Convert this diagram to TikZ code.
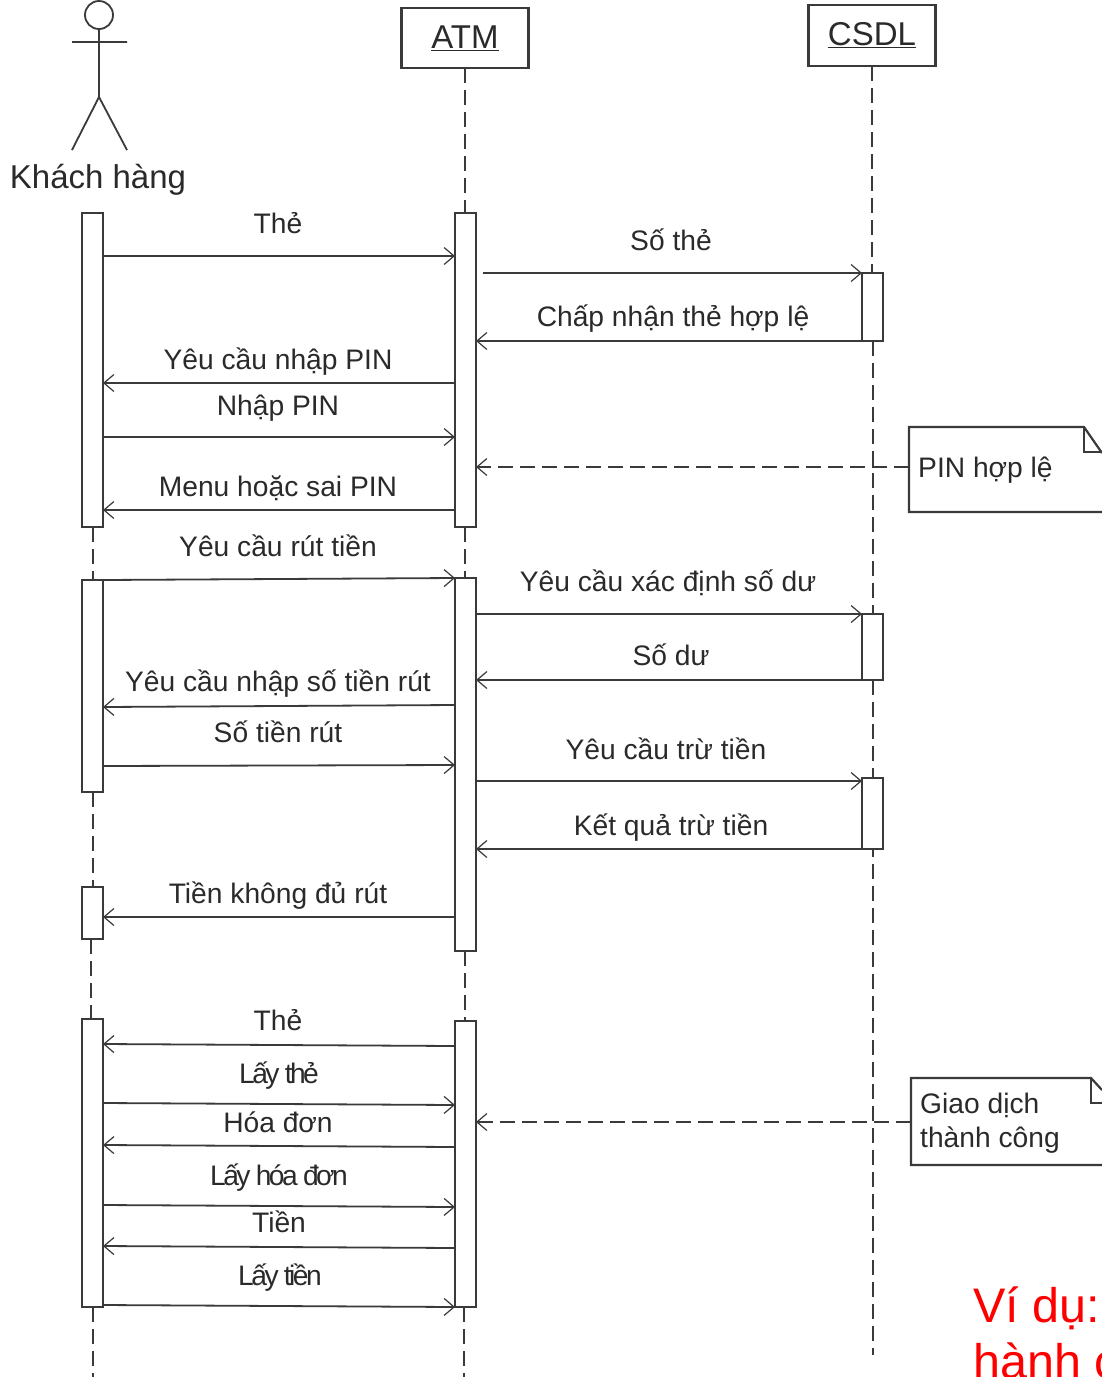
\documentclass[tikz,border=0pt]{standalone}
\usepackage{fontspec}
\setmainfont{Liberation Sans}
\usetikzlibrary{arrows.meta}
\definecolor{ink}{HTML}{3A3A3A}
\definecolor{txt}{HTML}{2A2A2A}
\tikzset{
  barbox/.style={draw=ink,line width=2pt,fill=white,minimum width=21pt,inner sep=0pt,outer sep=0pt},
  headbox/.style={draw=ink,line width=2.2pt,fill=white,minimum width=127pt,minimum height=60pt,inner sep=0pt,outer sep=0pt,font=\fontsize{33}{36}\selectfont,text=txt},
  lbl/.style={anchor=base,inner sep=0pt,text=txt,font=\fontsize{28.2}{30}\selectfont},
  tight/.style={anchor=base,inner sep=0pt,text=txt,font=\fontsize{28.2}{30}\selectfont\addfontfeature{LetterSpace=-9}},
  notetext/.style={anchor=base west,inner sep=0pt,text=txt,font=\fontsize{28.2}{30}\selectfont},
  redtext/.style={anchor=base west,inner sep=0pt,text=red,font=\fontsize{48.5}{52}\selectfont},
  msg/.style={draw=ink,line width=1.8pt,-{Straight Barb[length=10pt,width=17pt,line width=1.2pt]}},
  dsh/.style={draw=ink,line width=1.8pt,dash pattern=on 15pt off 7pt,-{Straight Barb[length=10pt,width=17pt,line width=1.2pt]}},
  life/.style={draw=ink,line width=1.7pt,dash pattern=on 15pt off 7pt},
  stick/.style={draw=ink,line width=1.8pt},
  notebox/.style={draw=ink,line width=2.2pt,line join=miter},
}
\begin{document}
\begin{tikzpicture}[x=1pt,y=-1pt]
\path[use as bounding box] (0,0) rectangle (1102,1377);
\clip (0,0) rectangle (1102,1377);
\fill[white] (0,0) rectangle (1102,1377);

% actor
\draw[stick] (99,15) circle (14);
\draw[stick] (99,29) -- (99,97) (72,42) -- (127,42) (72,150) -- (99,97) -- (127,150);
\node[anchor=base,inner sep=0pt,text=txt,font=\fontsize{33}{36}\selectfont] (khach) at (98,188) {Khách hàng};

% heads
\node[headbox] (atm) at (465,38) {\underline{ATM}};
\node[headbox,minimum height=61pt] (csdl) at (872,35.5) {\underline{CSDL}};

% lifeline free ends
\coordinate (kend) at (93,1377);
\coordinate (aend) at (464,1377);
\coordinate (cend) at (873,1355);

% activation bars
\node[barbox,minimum height=314pt] (k1) at (92.5,370) {};
\node[barbox,minimum height=212pt] (k2) at (92.5,686) {};
\node[barbox,minimum height=52pt] (k3) at (92.5,913) {};
\node[barbox,minimum height=288pt] (k4) at (92.5,1163) {};
\node[barbox,minimum height=314pt] (a1) at (465.5,370) {};
\node[barbox,minimum height=373pt] (a2) at (465.5,764.5) {};
\node[barbox,minimum height=286pt] (a3) at (465.5,1164) {};
\node[barbox,minimum height=68pt] (c1) at (872.5,307) {};
\node[barbox,minimum height=66pt] (c2) at (872.5,647) {};
\node[barbox,minimum height=71pt] (c3) at (872.5,813.5) {};

% lifelines
\draw[life] (atm.south) -- (atm.south |- a1.north);
\draw[life] (atm.south |- a1.south) -- (atm.south |- a2.north);
\draw[life] (atm.south |- a2.south) -- (atm.south |- a3.north);
\draw[life] (aend |- a3.south) -- (aend);
\draw[life] (csdl.south) -- (csdl.south |- c1.north);
\draw[life] (cend |- c1.south) -- (cend |- c2.north);
\draw[life] (cend |- c2.south) -- (cend |- c3.north);
\draw[life,dash phase=7pt] (cend |- c3.south) -- (cend);
\draw[life] (kend |- k1.south) -- (kend |- k2.north);
\draw[life] (kend |- k2.south) -- (kend |- k3.north);
\draw[life] (k3.south -| 91,0) -- (k4.north -| 91,0);
\draw[life] (kend |- k4.south) -- (kend);

% messages
\draw[msg] (k1.east |- 0,256) -- (a1.west |- 0,256);
\node[lbl] (t1) at (278,233) {Thẻ};
\draw[msg] (483,273) -- (c1.west |- 0,273);
\node[lbl] (t2) at (671,250) {Số thẻ};
\draw[msg] (c1.west |- 0,341) -- (a1.east |- 0,341);
\node[lbl] (t3) at (673,326) {Chấp nhận thẻ hợp lệ};
\draw[msg] (a1.west |- 0,383) -- (k1.east |- 0,383);
\node[lbl] (t4) at (278,369) {Yêu cầu nhập PIN};
\draw[msg] (k1.east |- 0,437) -- (a1.west |- 0,437);
\node[lbl] (t5) at (278,415) {Nhập PIN};
\draw[msg] (a1.west |- 0,510) -- (k1.east |- 0,510);
\node[lbl] (t6) at (278,496) {Menu hoặc sai PIN};

\draw[msg] (k2.east |- 0,580) -- (a2.west |- 0,578);
\node[lbl] (t7) at (278,556) {Yêu cầu rút tiền};
\draw[msg] (a2.east |- 0,614) -- (c2.west |- 0,614);
\node[lbl] (t8) at (668,591) {Yêu cầu xác định số dư};
\draw[msg] (c2.west |- 0,680) -- (a2.east |- 0,680);
\node[lbl] (t9) at (671,665) {Số dư};
\draw[msg] (a2.west |- 0,705) -- (k2.east |- 0,707);
\node[lbl] (t10) at (278,691) {Yêu cầu nhập số tiền rút};
\draw[msg] (k2.east |- 0,766) -- (a2.west |- 0,765);
\node[lbl] (t11) at (278,742) {Số tiền rút};
\draw[msg] (475,781) -- (c3.west |- 0,781);
\node[lbl] (t12) at (666,759) {Yêu cầu trừ tiền};
\draw[msg] (c3.west |- 0,849) -- (a2.east |- 0,849);
\node[lbl] (t13) at (671,835) {Kết quả trừ tiền};
\draw[msg] (a2.west |- 0,917) -- (k3.east |- 0,917);
\node[lbl] (t14) at (278,903) {Tiền không đủ rút};

\draw[msg] (a3.west |- 0,1046) -- (k4.east |- 0,1044);
\node[lbl] (t15) at (278,1030) {Thẻ};
\draw[msg] (k4.east |- 0,1103) -- (a3.west |- 0,1105);
\node[tight] (t16) at (279,1083) {Lấy thẻ};
\draw[msg] (a3.west |- 0,1147) -- (k4.east |- 0,1145);
\node[lbl] (t17) at (278,1132) {Hóa đơn};
\draw[msg] (k4.east |- 0,1205) -- (a3.west |- 0,1207);
\node[tight] (t18) at (279,1185) {Lấy hóa đơn};
\draw[msg] (a3.west |- 0,1248) -- (k4.east |- 0,1246);
\node[lbl] (t19) at (279,1232) {Tiền};
\draw[msg] (k4.east |- 0,1305) -- (a3.west |- 0,1307);
\node[tight] (t20) at (280,1285) {Lấy tiền};

% notes
\coordinate (n1) at (909,467);
\draw[dsh] (n1) -- (a1.east |- n1);
\draw[notebox,fill=white] (1102,512) -- (909,512) -- (909,427) -- (1084,427) -- (1102,453);
\draw[notebox] (1084,427) -- (1084,452) -- (1102,452);
\node[notetext] (pin) at (918,477) {PIN hợp lệ};

\coordinate (n2) at (911,1122);
\draw[dsh] (n2) -- (a3.east |- n2);
\draw[notebox,fill=white] (1102,1165) -- (911,1165) -- (911,1078) -- (1091,1078) -- (1102,1090);
\draw[notebox] (1091,1078) -- (1091,1103) -- (1102,1103);
\node[notetext] (gd1) at (920,1113) {Giao dịch};
\node[notetext] (gd2) at (920,1147) {thành công};

% red text
\node[redtext] (r1) at (973,1322) {Ví dụ:};
\node[redtext] (r2) at (973,1378) {hành c};
\end{tikzpicture}
\end{document}
